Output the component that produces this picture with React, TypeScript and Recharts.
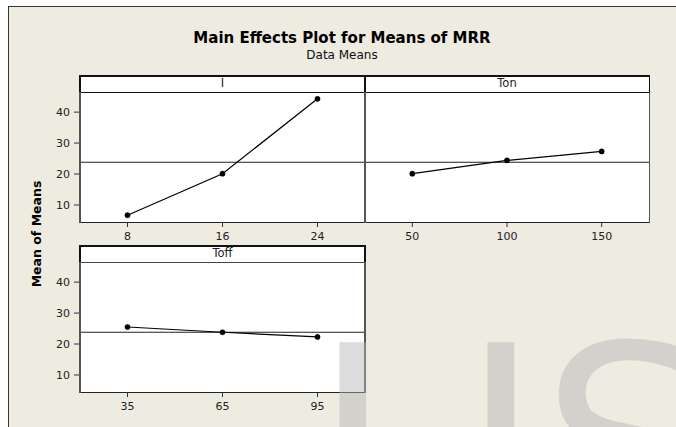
import React from 'react';
import { LineChart, Line, XAxis, YAxis, ReferenceLine } from 'recharts';

// factor levels and the mean of MRR read at each level
const iLevels = [8, 16, 24];
const iMeans = [6.7, 20.1, 44.3];
const tonLevels = [50, 100, 150];
const tonMeans = [20.1, 24.4, 27.3];
const toffLevels = [35, 65, 95];
const toffMeans = [25.5, 23.8, 22.3];

const yTicks = [10, 20, 30, 40];
const yDomain = [4.5, 46.5];
const grandMean = 23.8;

const FONT = '"DejaVu Sans", sans-serif';
const BG = '#eeebe1';

const toRows = (levels: number[], means: number[]) =>
  levels.map((lv, i) => ({ x: lv, y: means[i] }));

interface PanelProps {
  label: string;
  levels: number[];
  means: number[];
  xDomain: number[];
  plotLeft: number;
  plotTop: number;
  showY: boolean;
}

const PLOT_W = 285;
const PLOT_H = 130;
const HEAD_H = 17;
const Y_W = 40;
const X_H = 25;

const Panel: React.FC<PanelProps> = ({ label, levels, means, xDomain, plotLeft, plotTop, showY }) => {
  const data = toRows(levels, means);
  const yw = showY ? Y_W : 0;
  const w = showY ? PLOT_W : PLOT_W - 1;
  return (
    <>
      {/* white panel with header strip */}
      <div style={{ position: 'absolute', left: plotLeft, top: plotTop - HEAD_H, width: w, height: PLOT_H + HEAD_H, background: '#fff' }} />
      <div style={{ position: 'absolute', left: plotLeft, top: plotTop - HEAD_H, width: w, height: HEAD_H, textAlign: 'center', fontFamily: FONT, fontSize: 11.5, lineHeight: `${HEAD_H}px`, color: '#222' }}>
        {label}
      </div>
      <div style={{ position: 'absolute', left: plotLeft - yw, top: plotTop }}>
        <LineChart width={w + yw} height={PLOT_H + X_H} data={data} margin={{ top: 0, right: 0, bottom: 0, left: 0 }}>
          <XAxis
            type="number"
            dataKey="x"
            domain={xDomain}
            ticks={levels}
            interval={0}
            height={X_H}
            axisLine={false}
            tickSize={5}
            tickMargin={5}
            tickLine={{ stroke: '#333' }}
            tick={{ fontFamily: FONT, fontSize: 11, fill: '#222' }}
          />
          <YAxis
            type="number"
            domain={yDomain}
            ticks={yTicks}
            hide={!showY}
            width={yw}
            axisLine={false}
            tickSize={6}
            tickMargin={4}
            tickLine={{ stroke: '#333' }}
            tick={{ fontFamily: FONT, fontSize: 11, fill: '#222' }}
          />
          <ReferenceLine y={grandMean} stroke="#222" strokeWidth={1} ifOverflow="extendDomain" />
          <Line
            type="linear"
            dataKey="y"
            stroke="#000"
            strokeWidth={1.2}
            dot={{ r: 2.6, fill: '#000', stroke: '#000', strokeWidth: 0.5 }}
            isAnimationActive={false}
          />
        </LineChart>
      </div>
    </>
  );
};

const hLine = (left: number, top: number, width: number, color: string, thick = 1.5) => (
  <div style={{ position: 'absolute', left, top, width, height: thick, background: color }} />
);
const vLine = (left: number, top: number, height: number, color: string, thick = 1.5) => (
  <div style={{ position: 'absolute', left, top, width: thick, height, background: color }} />
);

const App: React.FC = () => {
  const topPlot = 92;
  const botPlot = 262;
  return (
    <div style={{ position: 'absolute', left: 0, top: 0, width: 676, height: 427, background: '#fff', overflow: 'hidden' }}>
      {/* beige frame */}
      <div style={{ position: 'absolute', left: 8, top: 6, width: 668, height: 421, background: BG }} />
      {vLine(7.5, 5.5, 422, '#333')}
      {hLine(7.5, 5.5, 669, '#333')}

      <Panel label="I" levels={iLevels} means={iMeans} xDomain={[4, 28]} plotLeft={80} plotTop={topPlot} showY />
      <Panel label="Ton" levels={tonLevels} means={tonMeans} xDomain={[25, 175]} plotLeft={365} plotTop={topPlot} showY={false} />
      <Panel label="Toff" levels={toffLevels} means={toffMeans} xDomain={[20, 110]} plotLeft={80} plotTop={botPlot} showY />

      {/* panel borders, top row */}
      {hLine(79, 74.5, 571, '#111', 2)}
      {hLine(79, 91.5, 571, '#111', 1.5)}
      {hLine(79, 221.5, 571, '#222', 1.5)}
      {vLine(79, 75, 16.5, '#111', 1.5)}
      {vLine(79, 92, 131, '#555', 1.5)}
      {vLine(364, 75, 16.5, '#111', 2)}
      {vLine(364, 92, 131, '#555', 1.5)}
      {vLine(648.5, 75, 16.5, '#111', 1.5)}
      {vLine(648.5, 92, 131, '#555', 1.5)}

      {/* panel borders, bottom row */}
      {hLine(79, 244.5, 287, '#111', 2)}
      {hLine(79, 261.5, 287, '#444', 1.5)}
      {hLine(79, 391.5, 287, '#222', 1.5)}
      {vLine(79, 245, 16.5, '#111', 1.5)}
      {vLine(79, 262, 131, '#555', 1.5)}
      {vLine(364, 245, 16.5, '#111', 1.5)}
      {vLine(364, 262, 131, '#555', 1.5)}

      <svg width={676} height={427} style={{ position: 'absolute', left: 0, top: 0, pointerEvents: 'none' }}>
        <text x={342} y={43} textAnchor="middle" fontFamily={FONT} fontWeight="bold" fontSize={15} fill="#000">
          Main Effects Plot for Means of MRR
        </text>
        <text x={342} y={59} textAnchor="middle" fontFamily={FONT} fontSize={12} fill="#111">
          Data Means
        </text>
        <text x={40.5} y={234} transform="rotate(-90 40.5 234)" textAnchor="middle" fontFamily={FONT} fontWeight="bold" fontSize={12.5} fill="#000">
          Mean of Means
        </text>
        {/* journal watermark, cut by the bottom edge */}
        <text y={539} fontFamily={FONT} fontSize={270} fill="#b5b5b5" fillOpacity={0.47}>
          <tspan x={313}>I</tspan>
          <tspan x={461}>J</tspan>
          <tspan x={541}>SER</tspan>
        </text>
      </svg>
    </div>
  );
};

export default App;
